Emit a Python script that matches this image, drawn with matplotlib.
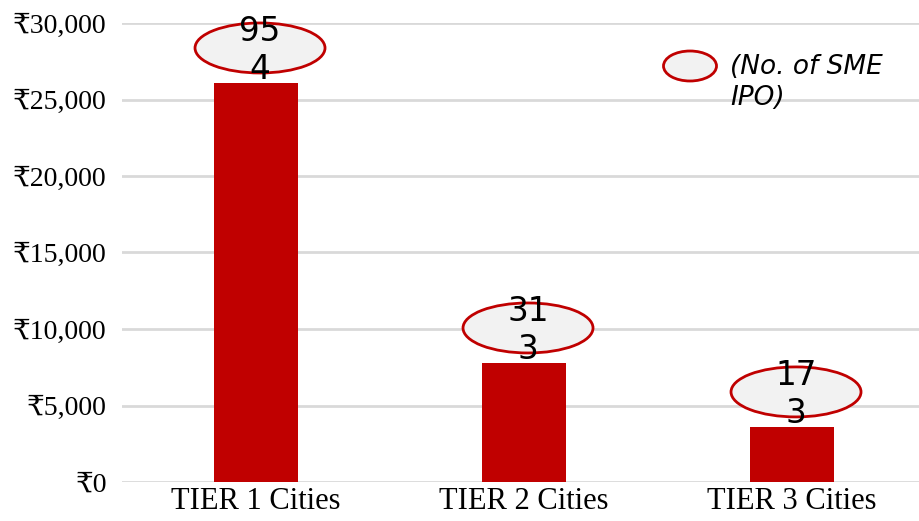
import matplotlib
matplotlib.use("Agg")
import matplotlib.pyplot as plt
from matplotlib.patches import Ellipse
from matplotlib.transforms import IdentityTransform
from matplotlib.ticker import FuncFormatter, MultipleLocator

# Data
categories = ["TIER 1 Cities", "TIER 2 Cities", "TIER 3 Cities"]
funds_raised = [26080, 7780, 3600]      # amount raised (₹ crore)
sme_ipo_counts = [954, 313, 173]       # number of SME IPOs
count_labels = ["95\n4", "31\n3", "17\n3"]

BAR_RED = "#c00000"
BUBBLE_FILL = "#f2f2f2"
GRID = "#d9d9d9"

W, H = 919, 521
fig = plt.figure(figsize=(W / 100, H / 100), dpi=100)
ax = fig.add_axes([122 / W, 39 / H, 804 / W, 459 / H])

x = list(range(len(categories)))
ax.bar(x, funds_raised, width=0.313, color=BAR_RED, zorder=2)

ax.set_xlim(-0.5, 2.5)
ax.set_ylim(0, 30000)
ax.yaxis.set_major_locator(MultipleLocator(5000))
ax.yaxis.set_major_formatter(FuncFormatter(lambda v, p: f"₹{int(v):,}"))
ax.grid(axis="y", color=GRID, linewidth=2, zorder=0)
ax.set_axisbelow(True)
for s in ax.spines.values():
    s.set_visible(False)
ax.tick_params(length=0)
ax.tick_params(axis="y", pad=11)
ax.tick_params(axis="x", pad=3.5)
ax.set_xticks(x)
ax.set_xticklabels(categories)
serif = ["Liberation Serif", "DejaVu Serif"]
for lab in ax.get_yticklabels():
    lab.set_fontfamily(serif)
    lab.set_fontsize(20)
for lab in ax.get_xticklabels():
    lab.set_fontfamily(serif)
    lab.set_fontsize(22)

# Bubble labels with IPO counts above each bar
units_per_px = 30000 / 459
bubble_w = 130 / 268
bubble_h = 50 * units_per_px
lift = 35 * units_per_px
text_drop = 2.5 * units_per_px
dx = 0.015
for xi, val, lab in zip(x, funds_raised, count_labels):
    cy = val + lift
    ax.add_patch(Ellipse((xi + dx, cy), bubble_w, bubble_h,
                         facecolor=BUBBLE_FILL, edgecolor=BAR_RED,
                         linewidth=2, zorder=3, clip_on=False))
    ax.text(xi + dx, cy - text_drop, lab, ha="center", va="center",
            fontsize=23.5, family="DejaVu Sans", color="black", zorder=4,
            linespacing=1.2)

# Legend
fig.add_artist(Ellipse((690, H - 66), 53, 30, transform=IdentityTransform(),
                       facecolor=BUBBLE_FILL, edgecolor=BAR_RED, linewidth=2))
fig.text(730 / W, 1 - 54 / H, "(No. of SME\nIPO)", ha="left", va="top",
         fontsize=19, style="italic", family="DejaVu Sans", linespacing=1.25)

fig.savefig("out.png", dpi=100)
